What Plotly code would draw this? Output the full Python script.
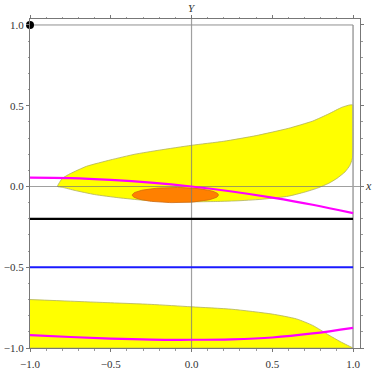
import numpy as np
import plotly.graph_objects as go

# upper yellow region: top edge (left -> right), then right/bottom edge (right -> left)
up_top_x = [-0.83, -0.8, -0.75, -0.65, -0.5, -0.35, -0.2, 0.0, 0.2, 0.4, 0.6, 0.75, 0.85, 0.93, 0.98, 1.0]
up_top_y = [0.0, 0.05, 0.08, 0.125, 0.165, 0.2, 0.225, 0.255, 0.28, 0.315, 0.36, 0.405, 0.45, 0.49, 0.505, 0.505]
up_bot_x = [1.0, 1.0, 0.995, 0.98, 0.95, 0.9, 0.85, 0.78, 0.7, 0.6, 0.45, 0.3, 0.15, 0.0, -0.15, -0.3, -0.45, -0.6, -0.72, -0.8, -0.83]
up_bot_y = [0.5, 0.22, 0.17, 0.13, 0.09, 0.05, 0.02, -0.01, -0.035, -0.06, -0.078, -0.088, -0.093, -0.095, -0.093, -0.085, -0.07, -0.05, -0.025, -0.005, 0.0]

# lower yellow region: top edge, filled down to y = -1
low_x = [-1.0, -0.75, -0.5, -0.25, 0.0, 0.25, 0.5, 0.65, 0.75, 0.85, 0.92, 1.0]
low_top = [-0.70, -0.71, -0.72, -0.73, -0.745, -0.76, -0.79, -0.82, -0.86, -0.92, -0.96, -1.0]
low_base = [-1.0, -1.0]
low_base_x = [1.0, -1.0]

# orange ellipse
ell_cx, ell_cy, ell_rx, ell_ry = -0.1, -0.053, 0.267, 0.047

# magenta curves
mag_x = [-1.0, -0.75, -0.5, -0.25, 0.0, 0.25, 0.5, 0.75, 1.0]
mag1_y = [0.055, 0.052, 0.041, 0.024, 0.0, -0.031, -0.069, -0.113, -0.165]
mag2_y = [-0.92, -0.932, -0.942, -0.948, -0.949, -0.946, -0.935, -0.91, -0.875]

# horizontal lines
hline_x = [-1.0, 1.0]
black_y = [-0.2, -0.2]
blue_y = [-0.5, -0.5]

# point
pt_x = [-1.0]
pt_y = [1.0]

ticks = [-1.0, -0.5, 0.0, 0.5, 1.0]
tick_text = ["\u22121.0", "\u22120.5", "0.0", "0.5", "1.0"]
minor_ticks = [-0.9, -0.8, -0.7, -0.6, -0.4, -0.3, -0.2, -0.1,
               0.1, 0.2, 0.3, 0.4, 0.6, 0.7, 0.8, 0.9]

xr = [-1.0, 1.043]
yr = [-1.0, 1.037]

SERIF = "Times New Roman, Liberation Serif, DejaVu Serif, serif"

fig = go.Figure()

fig.add_trace(go.Scatter(
    x=up_top_x + up_bot_x, y=up_top_y + up_bot_y,
    fill="toself", fillcolor="#FFFF00", mode="lines",
    line=dict(color="#b0b060", width=0.8, shape="spline", smoothing=0.5), hoverinfo="skip",
))
fig.add_trace(go.Scatter(
    x=low_x + low_base_x, y=low_top + low_base,
    fill="toself", fillcolor="#FFFF00", mode="lines",
    line=dict(color="#b0b060", width=0.8, shape="spline", smoothing=0.6), hoverinfo="skip",
))

t = np.linspace(0, 2 * np.pi, 100)
fig.add_trace(go.Scatter(
    x=ell_cx + ell_rx * np.cos(t), y=ell_cy + ell_ry * np.sin(t),
    fill="toself", fillcolor="#FF8000", mode="lines",
    line=dict(color="#d06a10", width=0.8), hoverinfo="skip",
))

# axes through origin, above the filled regions
axis_col = "rgba(120,120,120,0.7)"
fig.add_trace(go.Scatter(x=[0, 0], y=yr, mode="lines", line=dict(color=axis_col, width=1.2),
                         cliponaxis=False, hoverinfo="skip"))
fig.add_trace(go.Scatter(x=[xr[0], xr[1] + 0.015], y=[0, 0], mode="lines",
                         line=dict(color=axis_col, width=1.2), cliponaxis=False, hoverinfo="skip"))
fig.add_trace(go.Scatter(x=[1, 1], y=[yr[0], 1.0], mode="lines", line=dict(color="#a0a0a0", width=1.5),
                         hoverinfo="skip"))
fig.add_trace(go.Scatter(x=[xr[0], 1.0], y=[1, 1], mode="lines", line=dict(color="#909090", width=1),
                         hoverinfo="skip"))

fig.add_trace(go.Scatter(x=hline_x, y=black_y, mode="lines", line=dict(color="black", width=2.2)))
fig.add_trace(go.Scatter(x=hline_x, y=blue_y, mode="lines", line=dict(color="#1a1aff", width=2.2)))
fig.add_trace(go.Scatter(x=mag_x, y=mag1_y, mode="lines", line=dict(color="#FF00FF", width=2.2, shape="spline")))
fig.add_trace(go.Scatter(x=mag_x, y=mag2_y, mode="lines", line=dict(color="#FF00FF", width=2.2, shape="spline")))
fig.add_trace(go.Scatter(x=pt_x, y=pt_y, mode="markers", marker=dict(color="black", size=8),
                         cliponaxis=False))

tick_font = dict(family=SERIF, size=11, color="#333333")
axis_common = dict(
    tickmode="array", tickvals=ticks, ticktext=tick_text, ticks="outside", ticklen=3, tickwidth=1,
    tickcolor="#777777", showline=True, linecolor="#777777", linewidth=1, mirror="ticks",
    showgrid=False, zeroline=False, tickfont=tick_font, automargin=False,
    minor=dict(tickmode="array", tickvals=minor_ticks, ticks="outside", ticklen=1.5,
               tickcolor="#999999", showgrid=False),
)
fig.update_xaxes(range=xr, ticklabelstandoff=3, **axis_common)
fig.update_yaxes(range=yr, **axis_common)

fig.update_layout(
    width=374, height=371,
    margin=dict(l=30, r=14, t=19, b=23),
    plot_bgcolor="white", paper_bgcolor="white",
    font=dict(family=SERIF),
    showlegend=False,
    annotations=[
        dict(text="<i>Y</i>", x=0, y=1, xref="x", yref="paper", yanchor="bottom", yshift=3,
             showarrow=False, font=dict(family=SERIF, size=11, color="#333333")),
        dict(text="<i>x</i>", x=1, y=0, xref="paper", yref="y", xanchor="left", xshift=3,
             showarrow=False, font=dict(family=SERIF, size=12, color="#333333")),
    ],
)

# drop the browser's default body margin so the figure sits at the page corner
fig.write_html("out.html", config={"displayModeBar": False},
               post_script="document.body.style.margin='0';")
